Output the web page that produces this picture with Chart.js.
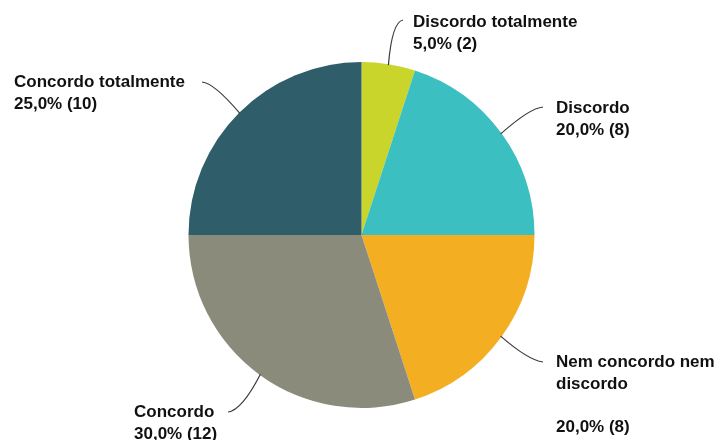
<!DOCTYPE html>
<html>
<head>
  <meta charset="UTF-8">
  <title>Distribuição das respostas</title>
  <script src="https://cdn.jsdelivr.net/npm/chart.js"></script>
  <style>
    body {
      margin: 0;
      background: #ffffff;
    }
    canvas {
      display: block;
    }
  </style>
</head>
<body>
  <canvas id="respostasChart" width="718" height="440"></canvas>

  <script>
    // respostas (número de participantes), sentido horário a partir do topo
    const categorias = ['Discordo totalmente', 'Discordo', 'Nem concordo nem discordo', 'Concordo', 'Concordo totalmente'];
    const respostas = [2, 8, 8, 12, 10];
    const cores = ['#c9d52b', '#3cbfc0', '#f4ae22', '#8a8b7b', '#2f5e6a'];

    // como cada rótulo é quebrado em linhas ('' = linha em branco)
    const linhasRotulo = [
      ['Discordo totalmente'],
      ['Discordo'],
      ['Nem concordo nem', 'discordo', ''],
      ['Concordo'],
      ['Concordo totalmente']
    ];

    // posição do texto e da linha de chamada de cada fatia
    const chamadas = [
      { tx: 413, ty: 27,  fim: [403, 20],  ctrl: [392, 22] },
      { tx: 556, ty: 113, fim: [543, 107], ctrl: [530, 108] },
      { tx: 556, ty: 367, fim: [543, 362], ctrl: [528, 360] },
      { tx: 134, ty: 417, fim: [228, 412], ctrl: [242, 410] },
      { tx: 14,  ty: 87,  fim: [202, 82],  ctrl: [214, 83] }
    ];

    const total = respostas.reduce((a, b) => a + b, 0);

    function textoValor(v) {
      const pct = (v / total * 100).toFixed(1).replace('.', ',');
      return pct + '% (' + v + ')';
    }

    const rotulos = {
      id: 'rotulos',
      afterDraw(chart) {
        const ctx = chart.ctx;
        const meta = chart.getDatasetMeta(0);
        ctx.save();
        meta.data.forEach((arc, i) => {
          const c = chamadas[i];
          const meio = (arc.startAngle + arc.endAngle) / 2;
          const r = arc.outerRadius - 1;
          const x0 = arc.x + Math.cos(meio) * r;
          const y0 = arc.y + Math.sin(meio) * r;

          ctx.beginPath();
          ctx.moveTo(x0, y0);
          ctx.quadraticCurveTo(c.ctrl[0], c.ctrl[1], c.fim[0], c.fim[1]);
          ctx.strokeStyle = '#3a3a3a';
          ctx.lineWidth = 1.2;
          ctx.stroke();

          const linhas = linhasRotulo[i].concat([textoValor(respostas[i])]);
          ctx.fillStyle = '#111111';
          ctx.font = 'bold 17px "Liberation Sans", Arial, sans-serif';
          ctx.textAlign = 'left';
          ctx.textBaseline = 'alphabetic';
          linhas.forEach((t, k) => {
            ctx.fillText(t, c.tx, c.ty + k * 21.5);
          });
        });
        ctx.restore();
      }
    };

    new Chart(document.getElementById('respostasChart'), {
      type: 'pie',
      data: {
        labels: categorias,
        datasets: [{
          data: respostas,
          backgroundColor: cores,
          borderWidth: 0
        }]
      },
      options: {
        responsive: false,
        animation: false,
        layout: {
          padding: { top: 62, bottom: 32, left: 188, right: 183 }
        },
        plugins: {
          legend: { display: false },
          tooltip: { enabled: false }
        }
      },
      plugins: [rotulos]
    });
  </script>
</body>
</html>
